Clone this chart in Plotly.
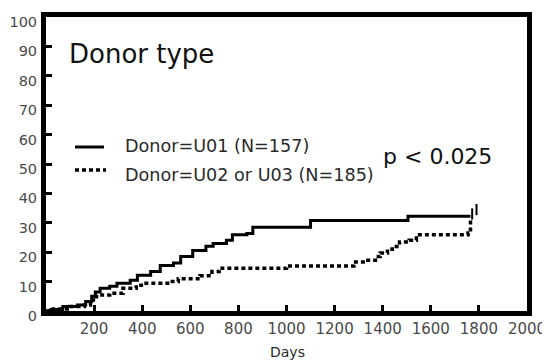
import plotly.graph_objects as go

# ---- data ----
solid_days = [0, 20, 70, 130, 165, 190, 205, 225, 265, 295, 350, 380, 435, 475, 530, 560,
              610, 665, 695, 750, 775, 835, 860, 1100, 1505, 1765]
solid_vals = [0, 0.5, 1.5, 2, 3.2, 5, 6.5, 7.7, 8.4, 9.4, 10.5, 12.2, 13.4, 15.5, 16.3, 18.5,
              20.6, 22, 23, 24.1, 25.9, 26.4, 28.5, 30.8, 32.2, 32.2]

dot_days = [0, 30, 100, 160, 185, 210, 265, 320, 375, 405, 515, 550, 640, 690, 720, 1000,
            1280, 1330, 1370, 1390, 1420, 1440, 1470, 1510, 1540, 1755, 1765]
dot_vals = [0, 0.7, 1.5, 2, 3.7, 5.4, 6, 7.7, 8.8, 9.4, 10, 11, 12, 13.4, 14.5, 15.3,
            16.7, 17.3, 18.5, 19.7, 21, 21.9, 23.5, 24.1, 25.9, 26.5, 31]

censor_days = [1772, 1790]
censor_vals = [33, 34.5]

x_ticks = list(range(200, 2001, 200))
y_ticks = list(range(0, 101, 10))

legend_labels = ["Donor=U01 (N=157)", "Donor=U02 or U03 (N=185)"]
panel_title = "Donor type"
p_text = "p < 0.025"
x_title = "Days"

FONT = "DejaVu Sans"
TXT = "#2a2a2a"
TICK = "#4a4a4a"

fig = go.Figure()
fig.add_trace(go.Scatter(x=solid_days, y=solid_vals, mode="lines", line_shape="hv",
                         line=dict(color="black", width=3), showlegend=False))
fig.add_trace(go.Scatter(x=dot_days, y=dot_vals, mode="lines", line_shape="hv",
                         line=dict(color="black", width=3.5, dash="4px,3px"), showlegend=False))
fig.add_trace(go.Scatter(x=censor_days, y=censor_vals, mode="markers",
                         marker=dict(symbol="line-ns-open", size=8, color="black",
                                     line=dict(color="black", width=2)),
                         showlegend=False))

# page body has an 8px margin: size the figure so the plot lands where the reference has it
OFF = 8
W, H = 542, 356
L, R, T, B = 38, 23, 9, 53
pw, ph = W - L - R, H - T - B


def px(xpix):
    return (xpix - OFF - L) / pw


def py(ypix):
    return (OFF + T + ph - ypix) / ph


# legend drawn as samples + labels
fig.add_shape(type="line", xref="paper", yref="paper", x0=px(75), x1=px(104), y0=py(147), y1=py(147),
              line=dict(color="black", width=3))
fig.add_shape(type="line", xref="paper", yref="paper", x0=px(75), x1=px(106), y0=py(170), y1=py(170),
              line=dict(color="black", width=3.5, dash="4px,3px"))
fig.add_annotation(xref="paper", yref="paper", x=px(123), y=py(146), text=legend_labels[0],
                   showarrow=False, xanchor="left", yanchor="middle",
                   font=dict(family=FONT, size=17.6, color=TXT))
fig.add_annotation(xref="paper", yref="paper", x=px(123), y=py(175), text=legend_labels[1],
                   showarrow=False, xanchor="left", yanchor="middle",
                   font=dict(family=FONT, size=17.6, color=TXT))
fig.add_annotation(xref="paper", yref="paper", x=px(67), y=py(54), text=panel_title,
                   showarrow=False, xanchor="left", yanchor="middle",
                   font=dict(family=FONT, size=26, color="#111"))
fig.add_annotation(xref="paper", yref="paper", x=px(381), y=py(156), text=p_text,
                   showarrow=False, xanchor="left", yanchor="middle",
                   font=dict(family=FONT, size=22, color="#111"))
fig.add_annotation(xref="paper", yref="paper", x=px(287), y=py(352), text=x_title,
                   showarrow=False, xanchor="center", yanchor="middle",
                   font=dict(family=FONT, size=14, color=TXT))

fig.update_xaxes(range=[0, 2000], tickvals=x_ticks, ticks="inside", ticklen=6, tickwidth=3,
                 tickcolor="black", showline=True, linewidth=5, linecolor="black", mirror=True,
                 showgrid=False, zeroline=False, automargin=False,
                 tickfont=dict(family=FONT, size=15, color=TICK))
fig.update_yaxes(range=[0, 100], tickvals=y_ticks, ticks="inside", ticklen=6, tickwidth=3,
                 tickcolor="black", showline=True, linewidth=5, linecolor="black", mirror=True,
                 showgrid=False, zeroline=False, automargin=False, ticklabelshift=5,
                 ticklabelstandoff=1,
                 tickfont=dict(family=FONT, size=14.5, color=TICK))

fig.update_layout(width=W, height=H, margin=dict(l=L, r=R, t=T, b=B),
                  plot_bgcolor="white", paper_bgcolor="white", showlegend=False)

fig.write_html("out.html")
